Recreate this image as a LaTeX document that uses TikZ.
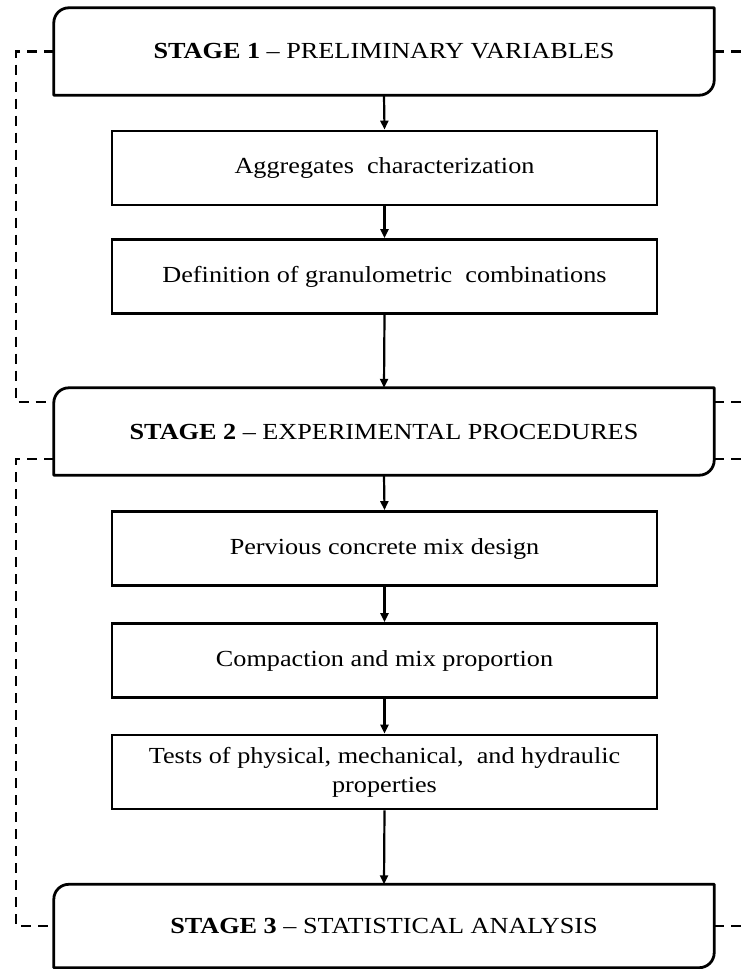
\documentclass[tikz,border=0pt]{standalone}
\usepackage{fontspec}
\setmainfont[FakeStretch=1.14]{Liberation Serif}
\usetikzlibrary{arrows.meta}
\begin{document}
\begin{tikzpicture}[x=1pt,y=1pt,
  stagebox/.style={rectangle, minimum width=660pt, minimum height=87pt, inner sep=0pt, font=\fontsize{23}{28}\selectfont},
  taskbox/.style={rectangle, draw, line width=2.8pt, minimum width=545pt, minimum height=74pt, inner sep=0pt, align=center, font=\fontsize{23}{29}\selectfont},
  flow/.style={-{Triangle[length=9pt,width=8pt]}, line width=2.2pt},
  link/.style={dashed, dash pattern=on 10pt off 7pt, line width=2.4pt}]
\useasboundingbox (0,0) rectangle (743,-969);

% stage headers
\node[stagebox] (s1) at (384,-51.5) {\textbf{STAGE 1} -- PRELIMINARY VARIABLES};
\node[stagebox] (s2) at (384,-431.5) {\textbf{STAGE 2} -- EXPERIMENTAL PROCEDURES};
\node[stagebox, minimum height=83pt] (s3) at (384,-926) {\textbf{STAGE 3} -- STATISTICAL ANALYSIS};

% stage outlines: rounded top-left and bottom-right corners
\foreach \s in {s1,s2,s3}{
  \draw[line width=2.8pt, line join=round]
    (\s.south west) -- ([yshift=-15pt]\s.north west)
    arc[start angle=180, end angle=90, radius=15pt]
    -- (\s.north east) -- ([yshift=15pt]\s.south east)
    arc[start angle=0, end angle=-90, radius=15pt] -- cycle;
}

% tasks
\node[taskbox] (a) at (384.5,-168) {Aggregates\ \ characterization};
\node[taskbox] (b) at (384.5,-276.5) {Definition of granulometric\ \ combinations};
\node[taskbox] (c) at (384.5,-548.5) {Pervious concrete mix design};
\node[taskbox] (d) at (384.5,-660.5) {Compaction and mix proportion};
\node[taskbox] (e) at (384.5,-772) {Tests of physical, mechanical,\ \ and hydraulic\\properties};

% flow arrows
\draw[flow] (s1.south) -- (a.north);
\draw[flow] (a.south) -- (b.north);
\draw[flow] (b.south) -- (s2.north);
\draw[flow] (s2.south) -- (c.north);
\draw[flow] (c.south) -- (d.north);
\draw[flow] (d.south) -- (e.north);
\draw[flow] (e.south) -- (s3.north);

% dashed links on the left
\coordinate (l1) at (16,-51.5);
\coordinate (l2) at (16,-402);
\coordinate (l3) at (16,-459);
\coordinate (l4) at (16,-926);
\draw[link] (s1.west) -- (l1) -- (l2) -- ([yshift=29.5pt]s2.west);
\draw[link] ([yshift=-27.5pt]s2.west) -- (l3) -- (l4) -- (s3.west);

% dashed stubs on the right
\coordinate (r1) at (743,-51.5);
\coordinate (r2) at (743,-402);
\coordinate (r3) at (743,-459);
\coordinate (r4) at (743,-926);
\draw[link] (s1.east) -- (r1);
\draw[link] ([yshift=29.5pt]s2.east) -- (r2);
\draw[link] ([yshift=-27.5pt]s2.east) -- (r3);
\draw[link] (s3.east) -- (r4);
\end{tikzpicture}
\end{document}
